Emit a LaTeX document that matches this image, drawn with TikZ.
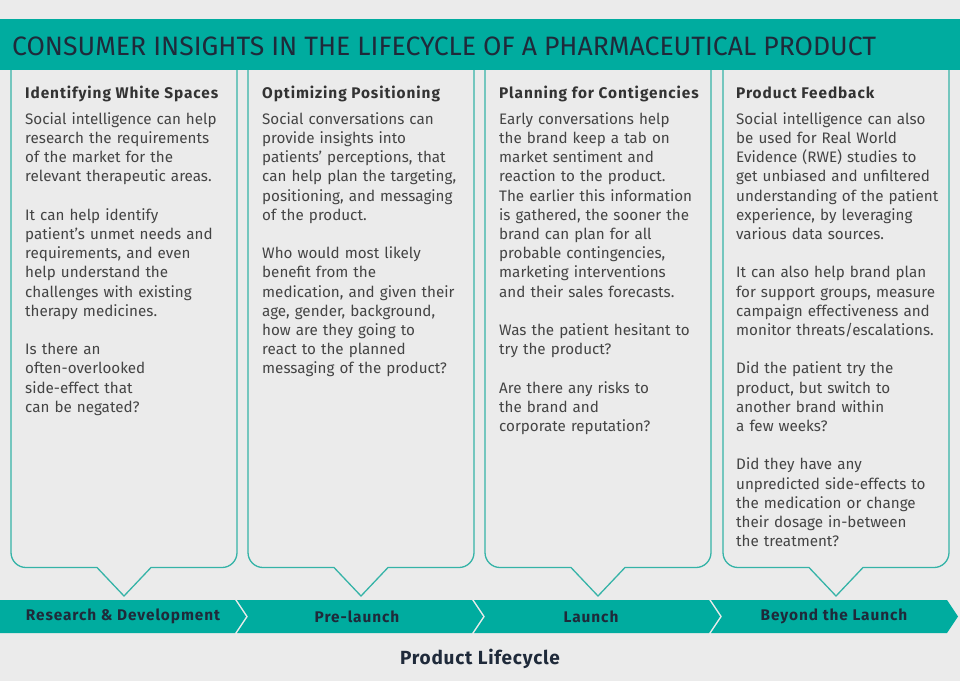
\documentclass[tikz,border=0pt]{standalone}
\usepackage{fontspec}
\setmainfont{Fira Sans}
\definecolor{bgc}{HTML}{EBEBEB}
\definecolor{teal1}{HTML}{00AC9F}
\definecolor{lineteal}{HTML}{35B3A7}
\definecolor{navy}{HTML}{1F2A3A}
\definecolor{bodyc}{HTML}{444444}
\definecolor{headc}{HTML}{333333}
\tikzset{
  bodytext/.style={anchor=north west, inner sep=0pt, align=left, text width=222pt,
    font=\fontsize{15.2}{19.2}\selectfont, text=bodyc},
  headtext/.style={anchor=base west, inner sep=0pt, font=\bfseries\fontsize{15.4}{17}\selectfont\addfontfeature{LetterSpace=6}, text=headc},
  callout/.style={draw=lineteal, line width=1.3pt, fill=bgc},
  seglabel/.style={inner sep=0pt, font=\bfseries\fontsize{15.4}{17}\selectfont\addfontfeature{LetterSpace=6}, text=navy},
  segfill/.style={fill=teal1, draw=none}
}
\begin{document}
\begin{tikzpicture}[x=1pt,y=-1pt]
\fill[bgc] (0,0) rectangle (960,681);
\useasboundingbox (0,0) rectangle (960,681);
% callout boxes
\foreach \L in {11,248,485,723}{
  \pgfmathsetmacro{\R}{\L+226}
  \pgfmathsetmacro{\C}{\L+113}
  \draw[callout] (\L,60) -- (\L,552.5) arc[start angle=180,end angle=270,radius=15pt] -- (\C-27,567.5) -- (\C,596) -- (\C+27,567.5) -- (\R-15,567.5) arc[start angle=270,end angle=360,radius=15pt] -- (\R,60);
}
% title band
\fill[teal1] (0,19) rectangle (960,70);
\node[anchor=base west, inner sep=0pt, font=\fontsize{26.6}{30}\selectfont, text=navy] (title) at (12,55) {CONSUMER INSIGHTS IN THE LIFECYCLE OF A PHARMACEUTICAL PRODUCT};
% headings
\node[headtext] (h1) at (25,98) {Identifying White Spaces};
\node[headtext] (h2) at (262,98) {Optimizing Positioning};
\node[headtext] (h3) at (499,98) {Planning for Contigencies};
\node[headtext] (h4) at (736,98) {Product Feedback};
% bodies
\node[bodytext] (b1) at (25,110.6) {\strut Social intelligence can help\\
research the requirements\\
of the market for the\\
relevant therapeutic areas.\\[19.2pt]
It can help identify\\
patient’s unmet needs and\\
requirements, and even\\
help understand the\\
challenges with existing\\
therapy medicines.\\[19.2pt]
Is there an\\
often-overlooked\\
side-effect that\\
can be negated?};
\node[bodytext] (b2) at (262,110.6) {\strut Social conversations can\\
provide insights into\\
patients’ perceptions, that\\
can help plan the targeting,\\
positioning, and messaging\\
of the product.\\[19.2pt]
Who would most likely\\
benefit from the\\
medication, and given their\\
age, gender, background,\\
how are they going to\\
react to the planned\\
messaging of the product?};
\node[bodytext] (b3) at (499,110.6) {\strut Early conversations help\\
the brand keep a tab on\\
market sentiment and\\
reaction to the product.\\
The earlier this information\\
is gathered, the sooner the\\
brand can plan for all\\
probable contingencies,\\
marketing interventions\\
and their sales forecasts.\\[19.2pt]
Was the patient hesitant to\\
try the product?\\[19.2pt]
Are there any risks to\\
the brand and\\
corporate reputation?};
\node[bodytext] (b4) at (736,110.6) {\strut Social intelligence can also\\
be used for Real World\\
Evidence (RWE) studies to\\
get unbiased and unfiltered\\
understanding of the patient\\
experience, by leveraging\\
various data sources.\\[19.2pt]
It can also help brand plan\\
for support groups, measure\\
campaign effectiveness and\\
monitor threats/escalations.\\[19.2pt]
Did the patient try the\\
product, but switch to\\
another brand within\\
a few weeks?\\[19.2pt]
Did they have any\\
unpredicted side-effects to\\
the medication or change\\
their dosage in-between\\
the treatment?};
% chevron band
\fill[segfill] (0,600) -- (235,600) -- (246,616.5) -- (235,633) -- (0,633) -- cycle;
\fill[segfill] (237,600) -- (472,600) -- (483,616.5) -- (472,633) -- (237,633) -- (248,616.5) -- cycle;
\fill[segfill] (474,600) -- (709,600) -- (720,616.5) -- (709,633) -- (474,633) -- (485,616.5) -- cycle;
\fill[segfill] (711,600) -- (947,600) -- (958,616.5) -- (947,633) -- (711,633) -- (722,616.5) -- cycle;
\node[seglabel] (s1) at (123,616.5) {Research \& Development};
\node[seglabel] (s2) at (357,616.5) {Pre-launch};
\node[seglabel] (s3) at (591,616.5) {Launch};
\node[seglabel] (s4) at (834,616.5) {Beyond the Launch};
\node[inner sep=0pt, font=\bfseries\fontsize{19}{22}\selectfont\addfontfeature{LetterSpace=4}, text=navy] (pl) at (480,659) {Product Lifecycle};
\end{tikzpicture}
\end{document}
